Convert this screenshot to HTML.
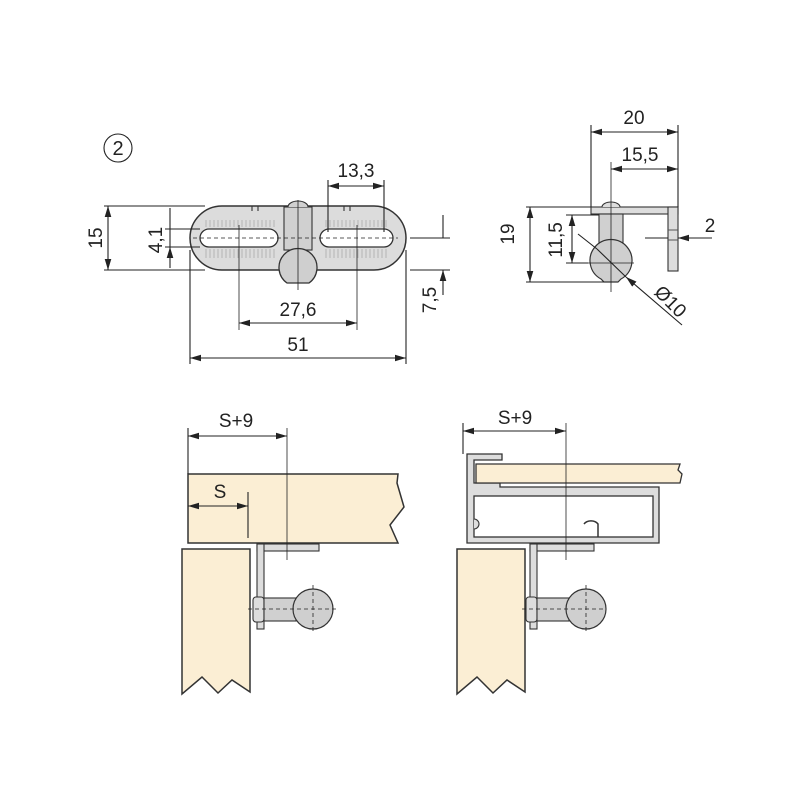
<!DOCTYPE html>
<html><head><style>body{margin:0;background:#fff}svg{display:block}</style></head>
<body>
<svg width="800" height="800" viewBox="0 0 800 800" xmlns="http://www.w3.org/2000/svg" font-family="Liberation Sans, sans-serif" font-size="19" fill="none" stroke="#222" stroke-width="1.1">
<defs>
<marker id="a" viewBox="0 0 10 6" refX="10" refY="3" markerWidth="11" markerHeight="7" orient="auto-start-reverse" markerUnits="userSpaceOnUse"><path d="M0,0L10,3L0,6z" fill="#222" stroke="none"/></marker>
</defs>
<circle cx="118" cy="148" r="14"/>
<text x="118" y="155" font-size="20" fill="#222" stroke="none" text-anchor="middle">2</text>

<path d="M222,206 H374 A32,32 0 0 1 374,270 H222 A32,32 0 0 1 222,206 Z" fill="#dcdcdc" stroke="#333" stroke-width="1.5"/>
<g stroke="#999" stroke-width="0.6">
<path d="M206,220V227M210,220V227M214,220V227M218,220V227M222,220V227M226,220V227M230,220V227M234,220V227M238,220V227M242,220V227M246,220V227M250,220V227M254,220V227M258,220V227M262,220V227M266,220V227M270,220V227M274,220V227"/>
<path d="M206,249V258M210,249V258M214,249V258M218,249V258M222,249V258M226,249V258M230,249V258M234,249V258M238,249V258M242,249V258M246,249V258M250,249V258M254,249V258M258,249V258M262,249V258M266,249V258M270,249V258M274,249V258"/>
<path d="M326,220V227M330,220V227M334,220V227M338,220V227M342,220V227M346,220V227M350,220V227M354,220V227M358,220V227M362,220V227M366,220V227M370,220V227M374,220V227M378,220V227M382,220V227M386,220V227"/>
<path d="M326,249V258M330,249V258M334,249V258M338,249V258M342,249V258M346,249V258M350,249V258M354,249V258M358,249V258M362,249V258M366,249V258M370,249V258M374,249V258M378,249V258M382,249V258M386,249V258"/>
</g>
<rect x="200" y="229" width="78" height="18" rx="9" fill="#fff" stroke="#333" stroke-width="1.3"/>
<rect x="320" y="229" width="73" height="18" rx="9" fill="#fff" stroke="#333" stroke-width="1.3"/>
<path d="M252,206V211M258,206V211M344,206V211M350,206V211" stroke="#333"/>
<rect x="284" y="207" width="28" height="43" fill="#d0d0d0" stroke="#333"/>
<path d="M288,207 a10,6 0 0 1 20,0" fill="#d0d0d0" stroke="#333"/>
<path d="M287,283 A19,19 0 1 1 309,283 Z" fill="#cfcfcf" stroke="#333" stroke-width="1.3"/>
<path d="M193,238H398" stroke-dasharray="4,3" stroke-width="0.8"/>
<path d="M298,200V290M239,225V330M357,225V330" stroke-width="0.8"/>
<path d="M104,206H205M104,270H205M165,229H200M165,247H200"/>
<path d="M108,206V270" marker-start="url(#a)" marker-end="url(#a)"/>
<path d="M170,208V229M170,268V247" marker-end="url(#a)"/>
<path d="M170,229V247"/>
<text transform="translate(102,238) rotate(-90)" text-anchor="middle" fill="#222" stroke="none">15</text>
<text transform="translate(162,240) rotate(-90)" text-anchor="middle" fill="#222" stroke="none">4,1</text>
<path d="M328,180V232M384,180V232"/>
<path d="M328,186H384" marker-start="url(#a)" marker-end="url(#a)"/>
<text x="356" y="177" text-anchor="middle" fill="#222" stroke="none">13,3</text>
<path d="M239,323H357" marker-start="url(#a)" marker-end="url(#a)"/>
<text x="298" y="316" text-anchor="middle" fill="#222" stroke="none">27,6</text>
<path d="M190,250V364M406,250V364"/>
<path d="M190,358H406" marker-start="url(#a)" marker-end="url(#a)"/>
<text x="298" y="351" text-anchor="middle" fill="#222" stroke="none">51</text>
<path d="M410,238H450M410,270H450"/>
<path d="M443,215V238M443,295V270" marker-end="url(#a)"/>
<text transform="translate(436,300) rotate(-90)" text-anchor="middle" fill="#222" stroke="none">7,5</text>

<rect x="591" y="207" width="87" height="7" fill="#ddd" stroke="#333"/>
<rect x="668" y="207" width="10" height="64" fill="#ddd" stroke="#333"/>
<path d="M668,230H678M668,240H678" stroke="#555"/>
<rect x="599" y="214" width="24" height="36" fill="#d0d0d0" stroke="#333"/>
<path d="M602,207 a9,5 0 0 1 18,0" fill="#ddd" stroke="#333"/>
<path d="M601,279 A21,21 0 1 1 621,279 L618,282 H604 Z" fill="#cfcfcf" stroke="#333" stroke-width="1.2"/>
<path d="M611,162V292M588,263H634" stroke-width="0.8"/>
<path d="M591,125V207M678,125V207"/>
<path d="M591,132H678" marker-start="url(#a)" marker-end="url(#a)"/>
<text x="634" y="124" text-anchor="middle" fill="#222" stroke="none">20</text>
<path d="M611,169H678" marker-start="url(#a)" marker-end="url(#a)"/>
<text x="640" y="161" text-anchor="middle" fill="#222" stroke="none">15,5</text>
<path d="M526,207H591M526,282H604M566,215H599M566,263H588"/>
<path d="M530,207V282" marker-start="url(#a)" marker-end="url(#a)"/>
<text transform="translate(514,234) rotate(-90)" text-anchor="middle" fill="#222" stroke="none">19</text>
<path d="M572,215V263" marker-start="url(#a)" marker-end="url(#a)"/>
<text transform="translate(562,240) rotate(-90)" text-anchor="middle" fill="#222" stroke="none">11,5</text>
<path d="M645,238H668M712,238H678" marker-end="url(#a)"/>
<text x="710" y="232" text-anchor="middle" fill="#222" stroke="none">2</text>
<path d="M578,234L597,249M682,325L626,277" marker-end="url(#a)"/>
<path d="M597,249L626,277"/>
<text transform="translate(666,306) rotate(45)" text-anchor="middle" fill="#222" stroke="none">Ø10</text>

<path d="M188,474H398L397,483L404,507L390,525L398,543H188Z" fill="#fbeed4" stroke="#333" stroke-width="1.5"/>
<path d="M182,549H250V692L232,680L218,693L202,677L182,694Z" fill="#fbeed4" stroke="#333" stroke-width="1.5"/>
<rect x="257" y="544" width="62" height="7" fill="#ddd" stroke="#333"/>
<rect x="257" y="544" width="7" height="85" fill="#ddd" stroke="#333"/>
<rect x="253" y="597" width="11" height="25" rx="3" fill="#ddd" stroke="#333"/>
<rect x="264" y="598" width="32" height="23" fill="#d0d0d0" stroke="#333"/>
<circle cx="313" cy="609" r="20" fill="#cfcfcf" stroke="#333" stroke-width="1.2"/>
<path d="M248,609H338M313,585V632" stroke-dasharray="4,3" stroke-width="0.8"/>
<path d="M188,428V474M248,492V538"/>
<path d="M287,428V560" stroke-width="0.8"/>
<path d="M188,436H287" marker-start="url(#a)" marker-end="url(#a)"/>
<text x="236" y="427" text-anchor="middle" fill="#222" stroke="none">S+9</text>
<path d="M188,506H248" marker-start="url(#a)" marker-end="url(#a)"/>
<text x="220" y="498" text-anchor="middle" fill="#222" stroke="none">S</text>

<path d="M467,454H502V460H474V483H500V487H659V543H467Z" fill="#ddd" stroke="#333" stroke-width="1.3"/>
<rect x="474" y="496" width="179" height="41" fill="#fff" stroke="#333" stroke-width="1.3"/>
<path d="M474,519a4,4 0 0 1 0,10" fill="#ddd" stroke="#333"/>
<path d="M598,537V524a8,6 0 0 0 -14,0" fill="none" stroke="#333" stroke-width="1.5"/>
<path d="M476,464H680L678,470L682,474L680,483H476Z" fill="#fbeed4" stroke="#333" stroke-width="1.3"/>
<path d="M457,549H525V692L507,680L493,693L477,677L457,694Z" fill="#fbeed4" stroke="#333" stroke-width="1.5"/>
<rect x="530" y="544" width="64" height="7" fill="#ddd" stroke="#333"/>
<rect x="530" y="544" width="7" height="85" fill="#ddd" stroke="#333"/>
<rect x="526" y="597" width="11" height="25" rx="3" fill="#ddd" stroke="#333"/>
<rect x="537" y="598" width="32" height="23" fill="#d0d0d0" stroke="#333"/>
<circle cx="586" cy="609" r="20" fill="#cfcfcf" stroke="#333" stroke-width="1.2"/>
<path d="M522,609H605M586,585V632" stroke-dasharray="4,3" stroke-width="0.8"/>
<path d="M463,423V454"/>
<path d="M566,423V560" stroke-width="0.8"/>
<path d="M463,431H566" marker-start="url(#a)" marker-end="url(#a)"/>
<text x="515" y="424" text-anchor="middle" fill="#222" stroke="none">S+9</text>
</svg>
</body></html>
